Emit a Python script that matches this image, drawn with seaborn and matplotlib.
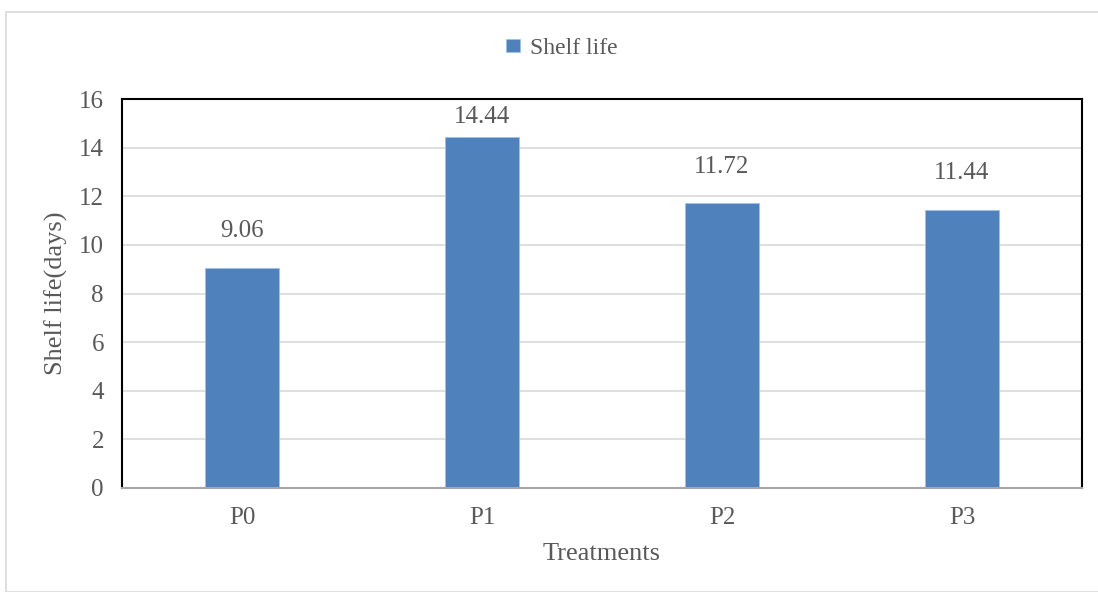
import matplotlib
matplotlib.use("Agg")
import matplotlib.pyplot as plt
import seaborn as sns
import pandas as pd
from matplotlib.patches import Rectangle

treatments = ["P0", "P1", "P2", "P3"]
shelf_life = [9.06, 14.44, 11.72, 11.44]
y_ticks = [0, 2, 4, 6, 8, 10, 12, 14, 16]

df = pd.DataFrame({"Treatments": treatments, "Shelf life": shelf_life})

sns.set_theme(style="white")
plt.rcParams["font.family"] = ["Liberation Serif", "DejaVu Serif"]

text_color = "#595959"
bar_color = "#4F81BD"

fig = plt.figure(figsize=(10.98, 5.92), dpi=100)
fig.patch.set_facecolor("white")
# light chart-area frame
fig.patches.append(Rectangle((6 / 1098, 0.0), 1.2, 1 - 12 / 592, transform=fig.transFigure,
                             fill=False, edgecolor="#D9D9D9", linewidth=1.2, zorder=0))

ax = fig.add_axes([122 / 1098, 1 - 488 / 592, 960 / 1098, 389 / 592])
sns.barplot(data=df, x="Treatments", y="Shelf life", color=bar_color, width=0.31,
            saturation=1, ax=ax, label="Shelf life", edgecolor="#9DC3E6", linewidth=0.6)

ax.set_ylim(0, 16)
ax.set_yticks(y_ticks)
ax.yaxis.grid(True, color="#D9D9D9", linewidth=1.2)
ax.set_axisbelow(True)

for side in ["left", "top", "right"]:
    ax.spines[side].set_color("black")
    ax.spines[side].set_linewidth(1.5)
ax.spines["bottom"].set_color("#A6A6A6")
ax.spines["bottom"].set_linewidth(1.5)

ax.tick_params(axis="both", length=0, labelsize=18, labelcolor=text_color)
ax.tick_params(axis="y", pad=13)
ax.tick_params(axis="x", pad=14)
ax.set_xlabel("Treatments", fontsize=19, color=text_color, labelpad=10)
ax.set_ylabel("Shelf life(days)", fontsize=19, color=text_color, labelpad=8)

# value labels above bars, kept inside the plot frame
for i, v in enumerate(shelf_life):
    ax.text(i, min(v + 1.5, 15.25), f"{v:.2f}", ha="center", va="center",
            fontsize=18, color=text_color)

leg = ax.legend(loc="center", bbox_to_anchor=(0.458, 1.13), frameon=False,
                fontsize=17, handlelength=0.6, handleheight=0.5, handletextpad=0.4)
for t in leg.get_texts():
    t.set_color(text_color)

fig.savefig("out.png", dpi=100)
